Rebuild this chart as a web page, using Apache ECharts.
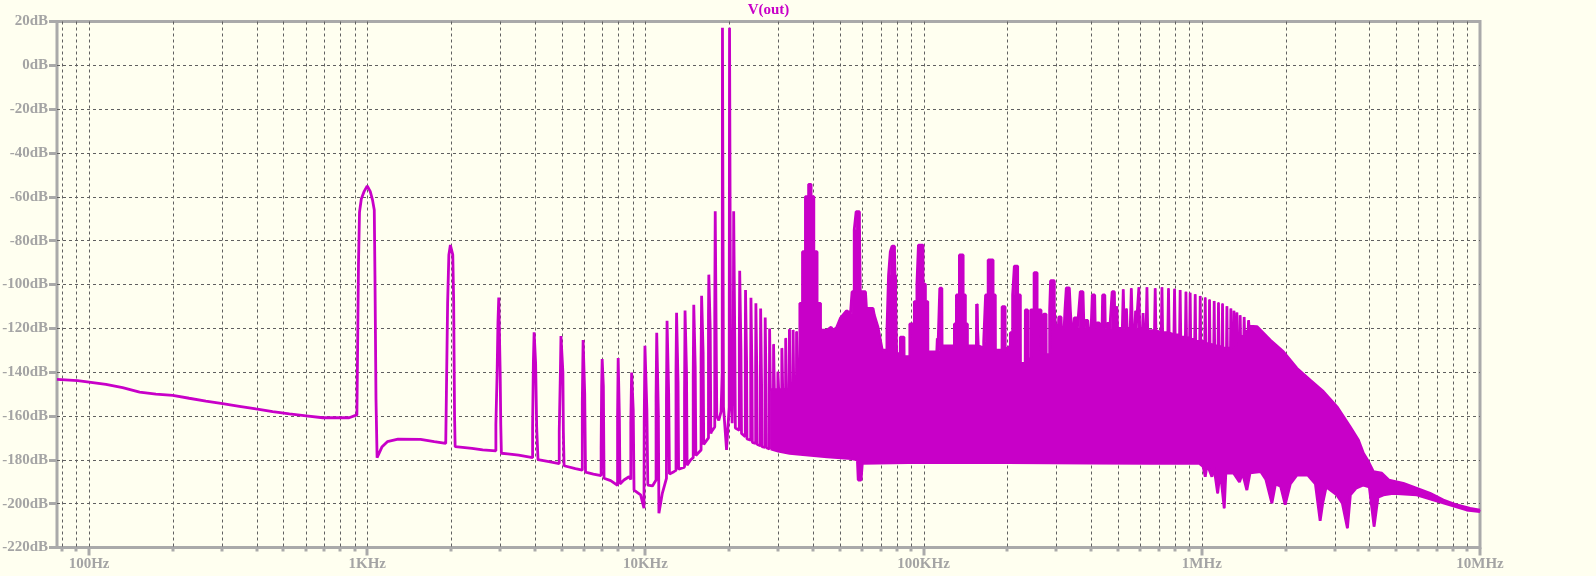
<!DOCTYPE html>
<html><head><meta charset="utf-8">
<script src="https://cdn.jsdelivr.net/npm/echarts@6/dist/echarts.min.js"></script>
<style>html,body{margin:0;padding:0;background:#fffff0;}#c{width:1596px;height:576px;}</style>
</head><body><div id="c"></div>
<script>
const titleText = 'V(out)';
const xMin = 76.7, xMax = 1e7;
const yMin = -220, yMax = 20, yStep = 20;
const decadeLabels = {2:'100Hz',3:'1KHz',4:'10KHz',5:'100KHz',6:'1MHz',7:'10MHz'};
const majorFreqs = [100,1e3,1e4,1e5,1e6,1e7];
const minorFreqs = [80,90,200,300,400,500,600,700,800,900,2e3,3e3,4e3,5e3,6e3,7e3,8e3,9e3,
  2e4,3e4,4e4,5e4,6e4,7e4,8e4,9e4,2e5,3e5,4e5,5e5,6e5,7e5,8e5,9e5,2e6,3e6,4e6,5e6,6e6,7e6,8e6,9e6];

// trace below the dense region: [Hz, dB]
const lowTrace = [
[76.7,-143.3],[91,-143.9],[100,-144.5],[115,-145.6],[132,-147.1],[152,-149.1],[174,-150],[200,-150.6],[229,-151.9],[263,-153.2],[302,-154.4],[347,-155.6],[398,-156.8],[457,-158],[525,-159],[603,-159.9],[692,-160.8],[861,-160.8],[918,-159.5],
[922,-137],[930,-91],[938,-67],[952,-61],[975,-57.5],[1000,-55],[1025,-57.5],[1045,-61.5],[1060,-66],[1066,-96],[1075,-152],[1085,-179],[1131,-174],[1181,-171.7],[1290,-170.6],[1555,-170.7],[1741,-171.7],[1915,-172.5],
[1925,-151],[1945,-108.6],[1965,-86.5],[1990,-82],[2010,-82.4],[2030,-86.5],[2045,-108],[2060,-160],[2070,-174],[2200,-174.3],[2380,-174.8],[2600,-175.5],[2900,-175.9],
[2900,-164],[2930,-164],[2930,-140.5],[2950,-140.5],[2950,-117.7],[2970,-117.7],[2970,-106],[3005,-106],[3005,-140],[3020,-140],[3020,-164],[3035,-164],[3035,-177],[3200,-177.3],[3500,-177.9],[3930,-179],
[3930,-165],[3955,-165],[3955,-136],[3980,-136],[3980,-121.8],[4030,-121.8],[4030,-136],[4065,-136],[4065,-165],[4110,-165],[4110,-179.9],[4500,-180.8],[4900,-181.7],
[4900,-167],[4950,-167],[4950,-138],[4970,-138],[4970,-123.5],[5050,-123.5],[5050,-140],[5070,-140],[5070,-167],[5100,-167],[5100,-182.7],[5600,-184],[5930,-184.7],
[5930,-154],[5950,-154],[5950,-139],[5970,-139],[5970,-125.3],[6050,-125.3],[6050,-150],[6090,-150],[6090,-185.6],[6500,-186.5],[6930,-187.2],
[6930,-175],[6960,-175],[6960,-146.6],[6990,-146.6],[6990,-134],[7060,-134],[7060,-146.6],[7100,-146.6],[7100,-188.4],[7500,-189.5],[7940,-191.7],
[7940,-160.3],[7980,-160.3],[7980,-133.5],[8060,-133.5],[8060,-160.3],[8100,-160.3],[8100,-191],[8370,-189.2],[8730,-187.7],[8860,-189],
[8860,-163.3],[8920,-163.3],[8920,-140.2],[9040,-140.2],[9040,-157.3],[9100,-157.3],[9100,-193.8],[9610,-196],[9880,-202.1],
[9900,-162.5],[9960,-162.5],[9960,-128],[10120,-128],[10120,-157.3],[10200,-157.3],[10200,-191.5],[10600,-191.9],[10920,-189.2],
[10920,-151.7],[10980,-151.7],[10980,-122],[11130,-122],[11130,-159],[11180,-159],[11180,-204.4],[11500,-195.3],[11900,-188.5],
[11900,-151.9],[11960,-151.9],[11960,-116.6],[12120,-116.6],[12120,-149.6],[12200,-149.6],[12200,-186.5],[12660,-185.4],[12880,-184.8],
[12880,-139],[12940,-139],[12940,-112.9],[13100,-112.9],[13100,-145],[13160,-145],[13160,-184.3],[13820,-183.3],
[13820,-150],[13880,-150],[13880,-111.9],[14050,-111.9],[14050,-140],[14120,-140],[14120,-182.5],[14530,-180.1],[14850,-179],
[14850,-142.5],[14920,-142.5],[14920,-109.2],[15100,-109.2],[15100,-137.5],[15180,-137.5],[15180,-178],[15360,-177.8],[15850,-175.5],
[15850,-134],[15920,-134],[15920,-105.1],[16120,-105.1],[16120,-131],[16200,-131],[16200,-173],[16400,-172.5],[16850,-170],
[16850,-114],[16900,-114],[16900,-95.5],[17100,-95.5],[17100,-121],[17180,-121],[17180,-168],[17300,-167],[17750,-165],
[17750,-114],[17820,-114],[17820,-66.6],[18050,-66.6],[18050,-160],[18350,-162],[18700,-158],
[18880,-140],[18920,17.1],[19040,17.1],[19080,-155.8],[19570,-175.5],[20000,-155.8],[20060,17.1],[20180,17.1],[20240,-140],[20500,-163.3],
[20700,-164],[20700,-120],[20760,-120],[20760,-66.6],[20950,-66.6],[20950,-125],[21050,-125],[21050,-165.5],[21750,-166.5],
[21750,-125],[21820,-125],[21820,-93.7],[22050,-93.7],[22050,-130],[22150,-130],[22150,-168],[22850,-169.5],
[22850,-130],[22900,-130],[22900,-102.5],[23100,-102.5],[23100,-135],[23180,-135],[23180,-170.5],[23900,-171],
[23900,-135],[23950,-135],[23950,-106],[24150,-106],[24150,-140],[24230,-140],[24230,-172],[24900,-172.5],
[24900,-138],[24950,-138],[24950,-108.6],[25150,-108.6],[25150,-142],[25230,-142],[25230,-173],[25900,-173.5],
[25900,-140],[25950,-140],[25950,-111],[26150,-111],[26150,-145],[26230,-145],[26230,-174],[26900,-174.3],
[26900,-145],[26950,-145],[26950,-115.1],[27150,-115.1],[27150,-148],[27230,-148],[27230,-174.5],[27900,-175],
[27900,-145],[27950,-145],[27950,-120.1],[28130,-120.1],[28130,-148]
];

// upper contour of the dense region (with spikes): [Hz, dB]
const bandTop = [
[28200,-148],[28850,-148],[28880,-127.3],[29050,-127.3],[29080,-148],[29900,-148],[29930,-139.8],[30100,-139.8],[30130,-148],[30900,-148],[30930,-129.1],[31120,-129.1],[31150,-148],[31900,-148],[31930,-124.5],[32120,-124.5],[32150,-148],[32900,-148],[32930,-120.4],[33120,-120.4],[33150,-148],[33900,-148],[33930,-120.8],[34120,-120.8],[34150,-148],[34900,-145],[34930,-121.5],[35120,-121.5],[35150,-140],[35900,-140],
[35900,-108.6],[36700,-108.6],[36700,-85],[37600,-85],[37600,-59.9],[38600,-59.9],[38600,-54.3],[39400,-54.3],[39400,-59.9],[40300,-59.9],[40300,-85],[41400,-85],[41400,-108.6],[42600,-108.6],[42600,-120.8],
[45000,-120.8],[46500,-119.5],[47500,-121],[48800,-119.3],[50200,-115.4],[52800,-112],[54600,-113.1],[55300,-113.5],
[55300,-103.3],[56300,-103.3],[56300,-75.1],[57200,-75.1],[57200,-66.8],[58800,-66.8],[58800,-75.1],[59200,-75.1],[59200,-103.3],[61800,-103.3],[62300,-110.9],[65800,-110.9],[66500,-114],[68500,-119.3],[71000,-129.9],[73800,-129.9],
[73800,-121.5],[74800,-121.5],[74800,-95.7],[75900,-95.7],[75900,-85],[77000,-85],[77000,-82.5],[78600,-82.5],[78600,-85],[78900,-85],[78900,-95.7],[79900,-95.7],[80000,-131.5],[82400,-131.5],[82500,-124],[85000,-124],[85100,-132.9],[89200,-132.9],
[89200,-118],[92600,-118],[92600,-107.8],[94600,-107.8],[94600,-99.8],[95800,-99.8],[95800,-82],[99500,-82],[99500,-99.8],[101500,-99.8],[101500,-107.8],[103500,-107.8],[103600,-130.7],[111500,-130.7],[112000,-124.5],[112500,-130.7],[114100,-130],[114300,-101.7],[116300,-101.7],[116500,-128],
[129000,-128],[129000,-118],[131200,-118],[131200,-104.8],[134500,-104.8],[134500,-86.5],[138700,-86.5],[138700,-104.8],[141300,-104.8],[141300,-118],[143700,-118],[143700,-128],
[154800,-128],[155000,-108.9],[157000,-108.9],[157200,-128],[164400,-129],[164400,-126],[167000,-126],[167000,-104.8],[170600,-104.8],[170600,-88.8],[177700,-88.8],[177700,-104.8],[181000,-104.8],[181200,-130],
[191300,-130],[191500,-110.1],[196300,-110.1],[196500,-130],[205000,-128],[205000,-122],[208900,-122],[208900,-104.8],[211900,-104.8],[211900,-91.6],[217800,-91.6],[217800,-104.8],[222700,-104.8],[222900,-136],
[231800,-136],[232100,-111.6],[236500,-111.6],[236800,-134],[242600,-134],[242600,-111.6],[249500,-111.6],[249500,-94.6],[255800,-94.6],[255800,-111.6],[264300,-111.6],[264500,-130],
[269800,-130],[270000,-113.5],[275500,-113.5],[275800,-132],[283800,-132],[283800,-111.6],[286000,-111.6],[286000,-98.3],[295000,-98.3],[295000,-111.6],[297500,-111.6],[297700,-118],
[305000,-120],[306000,-114.8],[312000,-114.8],[313000,-120],[320000,-120],[322000,-112],[325800,-101.5],[334000,-101.5],[337000,-112],[340000,-120],
[346000,-120],[348000,-115.2],[355000,-115.2],[357000,-120],[362000,-120],[365700,-103.3],[374000,-103.3],[377000,-120],
[381000,-120],[382000,-116.4],[389000,-116.4],[391000,-120],[400000,-120],[404000,-104.8],[412000,-104.8],[414000,-120],
[419000,-120],[420000,-117.5],[428000,-117.5],[430000,-120],[438000,-120],[440000,-104.8],[448000,-104.8],[450000,-120],
[456000,-120],[457000,-117.8],[465000,-117.8],[467000,-120],[474000,-120],[476000,-103.3],[485000,-103.3],[487000,-120],
[493000,-120],[495000,-110],[498000,-120],[518000,-120],[522000,-102.2],[526000,-120],
[533000,-120],[536000,-111],[539000,-120],[553000,-120],[558000,-101.7],[563000,-120],
[575000,-120],[578000,-112],[581000,-120],[590000,-120],[594000,-101.3],[598000,-120],
[612000,-120],[615000,-113],[618000,-120],[631000,-120],[635000,-101.3],[639000,-121],
[676000,-121],[680000,-101.7],[684000,-121],[715000,-122],[719000,-101.3],[723000,-122],
[755000,-122],[759000,-101.7],[763000,-122],[794000,-123],[798000,-102],[802000,-123],
[832000,-123],[836000,-102.5],[840000,-124],[873000,-124],[877000,-103.3],[881000,-124],
[904000,-125],[908000,-103.8],[912000,-125],[943000,-125],[947000,-104.4],[951000,-126],
[983000,-126],[987000,-105.2],[991000,-126],[1025000,-126],[1029000,-105.9],[1033000,-127],
[1062000,-127],[1066000,-106.9],[1070000,-127],[1104000,-128],[1108000,-107.5],[1112000,-128],
[1144000,-128],[1148000,-108.2],[1152000,-128],[1183000,-129],[1187000,-108.7],[1191000,-129],
[1227000,-129],[1231000,-109.9],[1235000,-129],[1268000,-129],[1272000,-111],[1276000,-129],
[1300000,-128],[1305000,-112],[1310000,-128],[1333000,-127],[1337000,-112.8],[1341000,-126],
[1370000,-125],[1374000,-114],[1378000,-124],[1416000,-123],[1420000,-114.8],[1424000,-122],
[1468000,-121],[1472000,-116.3],[1478000,-119],
[1578000,-119.2],[1761000,-125.3],[1966000,-130.7],[2196000,-138.2],[2451000,-143.6],[2736000,-148.9],[3058000,-155.7],[3413000,-164.9],[3655000,-170.9],[3809000,-177],[3970000,-180.8],[4138000,-185.4],
[4436000,-186.1],[4700000,-189.2],[5300000,-190.7],[5924000,-193],[6613000,-195.3],[7383000,-198.3],[8247000,-200.6],[9210000,-202.1],[10000000,-202.9]
];

// lower envelope of the dense region: [Hz, dB]
const bandFloor = [
[28200,-175],[30000,-176],[33000,-177],[36000,-177.5],[45000,-178.6],[55000,-179.4],[57800,-180],[58200,-189.2],[59600,-189.2],[60200,-181.6],[100000,-181.2],[200000,-181.3],[400000,-181.5],[650000,-181.6],[980000,-181.6],
[1010000,-183],[1029000,-187.7],[1045000,-182],[1087000,-187.7],[1105000,-183],[1140000,-195.3],[1165000,-185],[1204000,-202.1],[1220000,-186],[1300000,-186],[1366000,-190.1],[1400000,-186],[1452000,-193.8],[1490000,-186],
[1630000,-185.4],[1700000,-189],[1786000,-199.8],[1840000,-191],[1920000,-192],[1994000,-200.5],[2080000,-191],[2196000,-187],[2400000,-186.8],[2560000,-191],[2663000,-207.8],[2720000,-199.8],[2800000,-192.3],[3058000,-196],[3200000,-199.8],[3338000,-211.2],[3420000,-196],[3580000,-193],[3809000,-191.5],[4000000,-192.3],[4162000,-210.5],[4300000,-197],[4495000,-196],
[4870000,-195.3],[5924000,-196],[6790000,-198.3],[7800000,-200.6],[8960000,-202.9],[10000000,-203.6]
];

const traceColor = '#c800c8';
const gridColor = '#606060';
const frameColor = '#aaaaaa';
const labelColor = '#a4a4a4';
const font = 'Liberation Serif';
const lw = 2.8;

const chart = echarts.init(document.getElementById('c'), null, {renderer:'canvas'});
const G = {left:57, right:116, top:21.5, bottom:28.5};
const gridTicks = majorFreqs.map(f => [f, -100, 1]).concat(minorFreqs.map(f => [f, -100, 0]));

chart.setOption({
  backgroundColor: '#fffff0',
  animation: false,
  graphic: [{
    type:'text', x: G.left + (1596 - G.left - G.right)/2, y: 3,
    style:{text: titleText, align:'center', verticalAlign:'top', fill: traceColor, font: 'bold 15px "Liberation Serif"'}
  }],
  grid: Object.assign({show:true, borderColor: frameColor, borderWidth:3, backgroundColor:'transparent', containLabel:false, outerBoundsMode:'none'}, G),
  xAxis: {
    type:'log', logBase:10, min:xMin, max:xMax, splitNumber:5,
    axisLine:{show:false}, axisTick:{show:false}, splitLine:{show:false}, minorTick:{show:false},
    axisLabel:{
      margin:9, color:labelColor, fontFamily:font, fontWeight:'bold', fontSize:15,
      showMinLabel:true, showMaxLabel:true, hideOverlap:false,
      formatter: v => { const e = Math.log10(v); const r = Math.round(e); return (Math.abs(e-r) < 1e-6 && decadeLabels[r]) ? decadeLabels[r] : ''; }
    }
  },
  yAxis: {
    type:'value', min:yMin, max:yMax, interval:yStep,
    axisLine:{show:false},
    axisTick:{show:true, length:8, lineStyle:{color:frameColor, width:3}},
    splitLine:{show:true, showMinLine:false, showMaxLine:false, lineStyle:{color:gridColor, width:1, type:[3,3]}},
    axisLabel:{margin:9, color:labelColor, fontFamily:font, fontWeight:'bold', fontSize:15, formatter: v => v + 'dB'}
  },
  series: [
    {
      type:'custom', name:'grid', coordinateSystem:'cartesian2d', z:1, silent:true, clip:false,
      data: gridTicks, encode:{x:0, y:1},
      renderItem(params, api){
        const f = api.value(0), major = api.value(2);
        const cs = params.coordSys;
        const x = Math.round(api.coord([f, 0])[0]) + 0.5;
        const top = cs.y, bot = cs.y + cs.height;
        const ch = [];
        if (f < xMax) ch.push({type:'line', shape:{x1:x,y1:top,x2:x,y2:bot}, style:{stroke:gridColor, lineWidth:1, lineDash:[3,3]}});
        ch.push({type:'line', shape:{x1:x-0.5,y1:bot,x2:x-0.5,y2:bot+(major?8:4)}, style:{stroke:frameColor, lineWidth:3}});
        return {type:'group', children:ch};
      }
    },
    {
      type:'custom', name:'band', coordinateSystem:'cartesian2d', z:2, silent:true,
      data: [bandTop[0]], encode:{x:0, y:1},
      renderItem(params, api){
        const pts = bandTop.map(p => api.coord(p)).concat(bandFloor.slice().reverse().map(p => api.coord(p)));
        return {type:'polygon', shape:{points:pts}, style:{fill:traceColor, stroke:traceColor, lineWidth:1}};
      }
    },
    {
      type:'line', name:'V(out)', z:3, showSymbol:false, symbol:'none', silent:true,
      data: lowTrace.concat(bandTop),
      lineStyle:{color:traceColor, width:lw, join:'bevel', cap:'butt'}
    },
    {
      type:'line', name:'floor', z:3, showSymbol:false, symbol:'none', silent:true,
      data: bandFloor,
      lineStyle:{color:traceColor, width:lw, join:'bevel', cap:'butt'}
    }
  ]
});
</script>
</body></html>
